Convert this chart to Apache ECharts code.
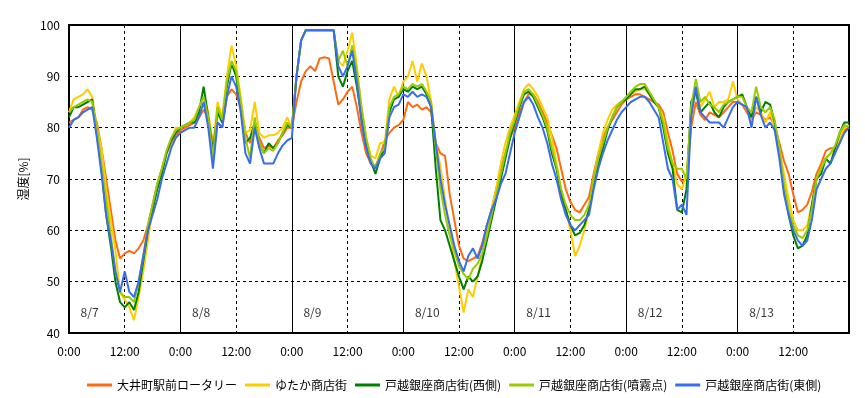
<!DOCTYPE html>
<html>
<head>
    <meta charset="utf-8">
    <title>湿度</title>
    <style>
        html, body { margin: 0; padding: 0; background: #fff; }
        #chartBox { width: 865px; height: 398px; }
    </style>
</head>
<body>
    <div id="chartBox"></div>
    <script src="https://cdn.jsdelivr.net/npm/echarts@6/dist/echarts.min.js"></script>
    <script>
        // 凡例名
        var seriesNames = ['大井町駅前ロータリー', 'ゆたか商店街', '戸越銀座商店街(西側)', '戸越銀座商店街(噴霧点)', '戸越銀座商店街(東側)'];
        var seriesColors = ['#ff6a10', '#ffcc00', '#008000', '#99cc00', '#3a6cf0'];
        var dayLabels = ['8/7', '8/8', '8/9', '8/10', '8/11', '8/12', '8/13'];
        var yTicks = [40, 50, 60, 70, 80, 90, 100];

        // 1時間ごとの湿度(%)  8/7 0:00 〜 8/14 0:00
        var oimachi = [
            81, 81.5, 82, 83.5, 84, 83.5, 81, 76, 70, 64, 58, 54.5, 55.5, 56, 55.5, 56.5, 58, 61, 65, 69, 72, 75, 77, 78.5,
            79.5, 80, 80.5, 81, 82, 83.5, 82, 77, 81, 80, 86, 87.5, 86.5, 84, 79, 77, 80.5, 78, 76, 76.5, 76, 77.5, 78.5, 80,
            80, 85, 89, 91, 92, 91, 93.5, 93.7, 93.5, 89, 84.5, 85.5, 87, 88, 84, 79, 75, 73, 72.5, 74.5, 77.5, 79, 80, 80.5,
            81.5, 85, 84, 84.5, 83.5, 84, 83, 77, 75, 74.5, 67, 62, 57, 54.5, 54, 54.5, 55, 57.5, 61, 64, 68, 72, 75, 78,
            80, 83, 85, 86.5, 86.5, 85, 83, 81, 78.5, 76, 72, 68, 65.5, 64, 63.5, 65, 66.5, 71, 75, 78, 80, 81.5, 83, 84.5,
            85.5, 86, 86.5, 86.5, 86, 85.5, 85, 84.5, 83, 79, 75.5, 71, 69.5, 70, 80, 85, 82.5, 81.5, 83, 82.5, 82, 83, 84, 85,
            85, 84.5, 83, 81.5, 83, 82.5, 81.5, 82, 80.5, 77, 73.5, 71, 67, 63.5, 64, 65, 67.5, 71, 73, 75.5, 76, 76, 77, 79.5, 80
        ];
        var yutaka = [
            83, 85.5, 86, 86.5, 87.5, 86, 80, 76, 68, 62, 56, 48, 46.5, 45, 42.5, 47, 52, 58, 64, 68.5, 72, 75, 77.5, 80,
            80, 80.5, 81, 82, 84, 86, 83, 76, 85, 82, 90, 96, 92, 86, 79, 79.5, 85, 79, 78, 78.5, 78.5, 79, 80, 82,
            80, 90, 97, 99, 99, 99, 99, 99, 99, 99, 93, 92, 95, 98.5, 92, 84, 78, 74.5, 74, 77, 77, 85.5, 88, 86,
            89, 90, 93, 89, 92.5, 90, 85, 77, 72.5, 66, 60, 54, 49, 44, 48.5, 47, 51, 55, 60, 64, 68, 73, 77, 80,
            82.5, 85, 87.5, 88.5, 87.5, 86, 84, 82, 78, 73, 68, 64, 60, 55, 57, 60, 64, 70, 75, 79, 81.5, 83.5, 84.5, 85,
            85.5, 86.5, 87, 87.5, 87.5, 86.5, 85, 84, 82, 77, 73, 69, 68, 71, 82, 87, 84, 85.5, 87, 84, 85, 85, 85.5, 89,
            85.5, 84.5, 84, 81, 84, 83, 81, 83, 80, 76, 71, 66, 62, 60, 60, 61, 65, 70, 72, 74, 75, 76, 78, 80, 80.5
        ];
        var togoshiWest = [
            82, 84, 84, 84.5, 85, 85.5, 79, 72, 63, 57, 50, 46, 45, 46, 44.5, 48, 54, 60, 64, 68, 71, 75, 77.5, 79,
            80, 80.5, 81, 81, 83, 88, 82, 75.5, 83, 81, 88, 92.5, 90, 84, 77, 78, 81, 77, 75, 77, 76, 77, 79, 80.5,
            80, 90, 97, 99, 99, 99, 99, 99, 99, 99, 90, 88, 91, 93, 88, 82, 77, 73.5, 71, 74, 76, 83, 85.5, 86,
            87.5, 87, 88, 87.5, 88, 86.5, 84, 72, 62, 60, 57, 54, 51, 48.5, 51, 50, 51, 54, 58, 62, 66, 70, 74, 78,
            81, 84, 86.5, 87, 86, 84, 82, 79.5, 75, 72, 67, 64, 61, 59, 59.5, 61, 64, 69, 73, 76, 79.5, 82, 84, 85,
            85.5, 86.5, 87.5, 87.5, 88, 86.5, 85, 84, 80, 75, 72, 64, 63.5, 68, 85, 87, 83, 84, 85, 83, 82, 84, 85, 85.5,
            86, 86.5, 84, 82, 86, 83, 85, 84.5, 81, 75, 68, 63, 59, 56.5, 57, 59, 65, 70, 71, 74, 73, 76, 79, 81, 81
        ];
        var togoshiMist = [
            83, 84, 84.5, 85, 85.5, 85, 80, 73, 66, 59, 52, 48, 47, 47, 46, 50, 55, 61, 65, 69, 72, 75.5, 78, 79.5,
            80, 80.5, 81, 81.5, 84, 86, 82, 74, 84, 81.5, 89, 93, 91, 85, 78, 74, 82, 77, 75, 76, 75.5, 77, 79, 81,
            80, 90, 97, 99, 99, 99, 99, 99, 99, 99, 93, 95, 92, 96, 91, 84, 78, 74, 72, 75, 76, 84, 86, 86.5,
            88, 87.5, 88.5, 88, 88.5, 87, 85, 76, 68, 63, 59, 56, 53, 51.5, 50.5, 52.5, 53.5, 55.5, 59, 63, 67, 71, 75, 79,
            81.5, 84.5, 87, 87.5, 86.5, 84.5, 82.5, 80, 76, 72.5, 68, 65, 63, 62, 62, 63, 65, 70, 74, 77, 80, 82, 84, 85,
            86, 87, 88, 88.5, 88.5, 87, 85.5, 84, 81, 76, 73, 72, 72, 70, 84, 89.5, 85, 86, 84.5, 84, 83, 84.5, 85, 85.5,
            86, 86, 84, 83, 88, 84, 83, 84, 81.5, 76, 69, 64, 61, 59, 58.5, 60, 64, 70, 72, 74, 75, 76.5, 79, 80.5, 80
        ];
        var togoshiEast = [
            80, 81.5, 82, 83, 83.5, 84, 78, 71, 63, 58, 52, 48, 52, 48, 47, 50, 55, 60, 63, 66, 70, 73, 76, 78,
            79, 79.5, 80, 80, 82, 85, 80, 72, 81, 80, 86, 90, 88, 83, 75, 73, 80, 76, 73, 73, 73, 75, 76.5, 77.5,
            78, 90, 97, 99, 99, 99, 99, 99, 99, 99, 92, 90, 92, 95, 89, 81, 76, 73, 72, 74, 75, 82, 84, 84.5,
            86.5, 86, 87, 86, 86.5, 86, 84, 77, 70, 65, 61, 57, 54, 52, 55, 56.5, 54.5, 57, 61, 64, 66, 69, 71, 75,
            79, 82, 85, 86, 84.5, 82, 80, 77, 73, 70, 66, 63, 61, 60, 61, 62, 63, 68, 72, 75, 77.5, 79.5, 81.5, 83,
            84, 85, 85.5, 86, 86, 85, 83.5, 82, 77, 72, 70, 64, 65, 63, 82, 88, 83, 82, 81, 81, 81, 80, 82, 84,
            85, 84.5, 84, 80, 86, 82.5, 80, 81, 79.5, 74, 67, 63, 60, 58, 57, 58, 62, 68, 70, 72, 73, 75, 77, 79, 80
        ];

        var allValues = [oimachi, yutaka, togoshiWest, togoshiMist, togoshiEast];

        var myChart = echarts.init(document.getElementById('chartBox'));
        var font = '"Noto Sans CJK JP", sans-serif';

        var series = allValues.map(function (vals, k) {
            return {
                name: seriesNames[k],
                type: 'line',
                xAxisIndex: 0,
                showSymbol: false,
                symbol: 'none',
                lineStyle: { width: 2, color: seriesColors[k] },
                itemStyle: { color: seriesColors[k] },
                data: vals.map(function (v, i) { return [i, v]; })
            };
        });

        // 日付ラベル
        series.push({
            type: 'scatter',
            silent: true,
            symbolSize: 0,
            label: {
                show: true,
                position: 'right',
                distance: 0,
                color: '#000',
                fontSize: 12,
                fontFamily: font,
                formatter: function (p) { return p.data[2]; }
            },
            data: dayLabels.map(function (d, i) { return [i * 24 + 2.5, 44, d]; })
        });

        var option = {
            animation: false,
            backgroundColor: '#fff',
            textStyle: { fontFamily: font },
            grid: {
                left: 69, right: 16, top: 25, bottom: 65,
                show: true, borderColor: '#000', borderWidth: 2, containLabel: false
            },
            legend: {
                data: seriesNames,
                left: 82,
                top: 374,
                icon: 'rect',
                itemWidth: 25,
                itemHeight: 3,
                itemGap: 8,
                textStyle: { fontSize: 12, color: '#000', fontFamily: font }
            },
            xAxis: [
                {
                    type: 'value',
                    min: 0, max: 168, interval: 12,
                    axisLine: { show: false },
                    axisTick: { show: false },
                    axisLabel: {
                        color: '#000', fontSize: 12, margin: 12, showMaxLabel: false,
                        formatter: function (v) { return (v % 24 === 0) ? '0:00' : '12:00'; }
                    },
                    splitLine: { show: true, lineStyle: { color: '#000', type: [3, 3], width: 1 } }
                },
                {
                    type: 'value',
                    min: 0, max: 168, interval: 24,
                    position: 'top',
                    axisLine: { show: false },
                    axisTick: { show: false },
                    axisLabel: { show: false },
                    splitLine: { show: true, lineStyle: { color: '#000', type: 'solid', width: 1 } }
                }
            ],
            yAxis: {
                type: 'value',
                min: yTicks[0], max: yTicks[yTicks.length - 1], interval: 10,
                name: '湿度[%]',
                nameLocation: 'middle',
                nameRotate: 90,
                nameGap: 40,
                nameTextStyle: { color: '#000', fontSize: 12, fontFamily: font },
                axisLine: { show: false },
                axisTick: { show: false },
                axisLabel: { color: '#000', fontSize: 12, margin: 9 },
                splitLine: { show: true, lineStyle: { color: '#000', type: [3, 3], width: 1 } }
            },
            series: series
        };

        myChart.setOption(option);
    </script>
</body>
</html>
